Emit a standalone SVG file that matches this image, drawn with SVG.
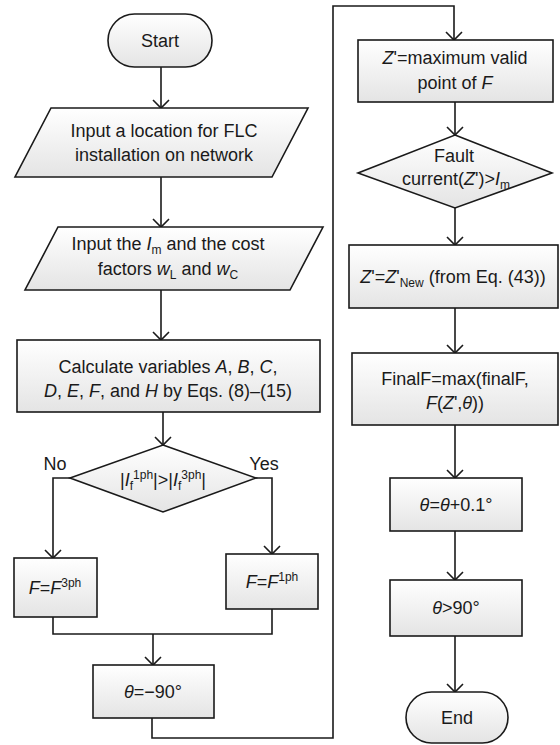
<svg xmlns="http://www.w3.org/2000/svg" width="560" height="745" viewBox="0 0 560 745">
<defs>
<linearGradient id="g" x1="0" y1="0" x2="0" y2="1">
<stop offset="0" stop-color="#ffffff"/>
<stop offset="1" stop-color="#e4e4e4"/>
</linearGradient>
<marker id="arr" markerWidth="20" markerHeight="20" refX="10" refY="10" orient="auto" markerUnits="userSpaceOnUse" viewBox="0 0 20 20">
<path d="M2,2 L10,10 L2,18" fill="none" stroke="#1a1a1a" stroke-width="1.6"/>
</marker>
<style>
.s{fill:url(#g);stroke:#1a1a1a;stroke-width:1.6}
.c{fill:none;stroke:#1a1a1a;stroke-width:1.6}
.a{marker-end:url(#arr)}
text{font-family:"Liberation Sans",Arial,sans-serif;font-size:18px;fill:#1a1a1a;text-anchor:middle}
.i{font-style:italic}
.sm{font-size:12px}
</style>
</defs>
<rect width="560" height="745" fill="#ffffff"/>
<g id="connectors">
<path class="c a" d="M161,67 V108"/>
<path class="c a" d="M161,177 V227"/>
<path class="c a" d="M161,290 V340"/>
<path class="c a" d="M163,412 V445"/>
<path class="c a" d="M70,478 H53 V558"/>
<path class="c a" d="M256,478 H272 V554"/>
<path class="c" d="M53,617 V634 H272 V609"/>
<path class="c a" d="M153,634 V665"/>
<path class="c a" d="M152,718 V738 H333 V6 H454 V40"/>
<path class="c a" d="M455,102 V135"/>
<path class="c a" d="M455,208 V245"/>
<path class="c a" d="M455,308 V353"/>
<path class="c a" d="M455,425 V478"/>
<path class="c a" d="M455,531 V580"/>
<path class="c a" d="M455,636 V692"/>
</g>
<g id="start">
<rect class="s" x="108" y="14" width="104" height="53" rx="26.5"/>
<text x="160" y="47">Start</text>
</g>
<g id="input1">
<polygon class="s" points="51,108 308,108 272,177 15,177"/>
<text x="164" y="137">Input a location for FLC</text>
<text x="164" y="161">installation on network</text>
</g>
<g id="input2">
<polygon class="s" points="58,227 323,227 290,290 25,290"/>
<text x="168" y="250">Input the <tspan class="i">I</tspan><tspan class="sm" dy="4">m</tspan><tspan dy="-4"> and the cost</tspan></text>
<text x="168" y="275">factors <tspan class="i">w</tspan><tspan class="sm" dy="4">L</tspan><tspan dy="-4"> and </tspan><tspan class="i">w</tspan><tspan class="sm" dy="4">C</tspan></text>
</g>
<g id="calc">
<rect class="s" x="17" y="340" width="303" height="72"/>
<text x="168" y="373">Calculate variables <tspan class="i">A</tspan>, <tspan class="i">B</tspan>, <tspan class="i">C</tspan>,</text>
<text x="168" y="397"><tspan class="i">D</tspan>, <tspan class="i">E</tspan>, <tspan class="i">F</tspan>, and <tspan class="i">H</tspan> by Eqs. (8)–(15)</text>
</g>
<g id="decision1">
<polygon class="s" points="163,445 256,478 163,512 70,478"/>
<text x="163" y="486">|<tspan class="i">I</tspan><tspan class="sm" dy="4">f</tspan><tspan class="sm" dy="-11">1ph</tspan><tspan dy="7">|&gt;|</tspan><tspan class="i">I</tspan><tspan class="sm" dy="4">f</tspan><tspan class="sm" dy="-11">3ph</tspan><tspan dy="7">|</tspan></text>
<text x="55" y="470">No</text>
<text x="264" y="470">Yes</text>
</g>
<g id="f3ph">
<rect class="s" x="14" y="558" width="83" height="59"/>
<text x="55" y="594"><tspan class="i">F</tspan>=<tspan class="i">F</tspan><tspan class="sm" dy="-7">3ph</tspan></text>
</g>
<g id="f1ph">
<rect class="s" x="226" y="554" width="92" height="55"/>
<text x="272" y="588"><tspan class="i">F</tspan>=<tspan class="i">F</tspan><tspan class="sm" dy="-7">1ph</tspan></text>
</g>
<g id="theta0">
<rect class="s" x="93" y="665" width="121" height="53"/>
<text x="153" y="698"><tspan class="i">θ</tspan>=−90°</text>
</g>
<g id="zmax">
<rect class="s" x="358" y="40" width="195" height="62"/>
<text x="455" y="64"><tspan class="i">Z</tspan>'=maximum valid</text>
<text x="455" y="89">point of <tspan class="i">F</tspan></text>
</g>
<g id="decision2">
<polygon class="s" points="455,135 552,173 455,208 358,173"/>
<text x="454" y="162">Fault</text>
<text x="456" y="185">current(<tspan class="i">Z</tspan>')&gt;<tspan class="i">I</tspan><tspan class="sm" dy="4">m</tspan></text>
</g>
<g id="znew">
<rect class="s" x="349" y="245" width="209" height="63"/>
<text x="453" y="283"><tspan class="i">Z</tspan>'=<tspan class="i">Z</tspan>'<tspan class="sm" dy="4">New</tspan><tspan dy="-4"> (from Eq. (43))</tspan></text>
</g>
<g id="finalf">
<rect class="s" x="352" y="353" width="206" height="72"/>
<text x="455" y="385">FinalF=max(finalF,</text>
<text x="455" y="409"><tspan class="i">F</tspan>(<tspan class="i">Z</tspan>',<tspan class="i">θ</tspan>))</text>
</g>
<g id="thetainc">
<rect class="s" x="390" y="478" width="132" height="53"/>
<text x="456" y="511"><tspan class="i">θ</tspan>=<tspan class="i">θ</tspan>+0.1°</text>
</g>
<g id="thetacheck">
<rect class="s" x="390" y="580" width="132" height="56"/>
<text x="456" y="614"><tspan class="i">θ</tspan>&gt;90°</text>
</g>
<g id="end">
<rect class="s" x="406" y="692" width="102" height="51" rx="25.5"/>
<text x="457" y="724">End</text>
</g>
</svg>
